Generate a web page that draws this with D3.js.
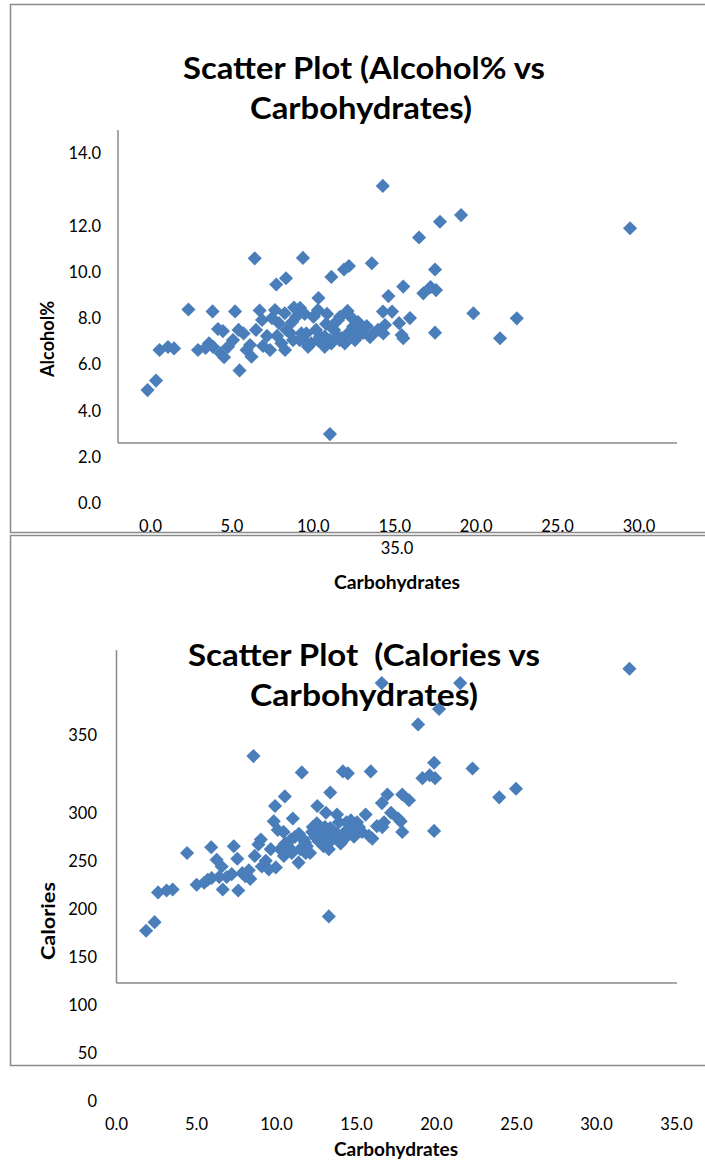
<!DOCTYPE html>
<html><head><meta charset="utf-8">
<script src="https://cdn.jsdelivr.net/npm/d3@7"></script>
<style>
html,body{margin:0;padding:0;background:#fff;}
svg{display:block;}
text{font-family:Lato, "Open Sans", sans-serif; fill:#000;}
</style></head>
<body>
<svg id="c" width="705" height="1161"></svg>
<script>
// ---------- DATA ----------
const carbs = [1.85,2.38,2.60,3.13,3.51,4.41,5.01,5.48,5.92,5.95,6.26,6.57,6.42,6.64,6.89,7.33,7.55,7.61,7.86,8.05,
  8.36,8.56,8.64,8.87,9.02,9.52,9.83,9.91,10.52,9.96,10.08,10.23,10.46,10.54,10.44,11.02,11.16,11.58,11.38,11.69,
  11.79,11.90,12.27,12.55,12.52,12.52,12.94,13.27,13.36,13.36,13.36,13.78,13.88,14.15,14.46,14.37,14.40,14.72,14.84,11.48,
  12.10,12.94,13.78,14.20,16.58,20.16,21.48,18.85,15.89,19.85,17.86,16.93,19.12,19.57,19.91,16.59,17.16,18.28,22.25,24.97,
  23.92,19.85,17.60,17.76,17.86,16.72,16.61,15.99,15.57,15.15,14.95,14.01,32.06,13.90,12.65,11.82,12.23,13.27,15.34,15.78,
  16.28,10.96,10.77,9.33,9.08,7.20,5.70,8.27,12.40,13.03,13.53,14.65,9.64,10.90,15.03,11.40,13.09];
const alcohol = [4.89,5.30,6.62,6.75,6.69,8.37,6.62,6.71,8.29,6.76,7.53,7.44,6.48,6.31,6.76,8.29,7.49,5.74,7.34,6.62,
  6.33,10.58,7.49,8.33,7.92,6.62,8.35,9.45,9.72,7.23,7.78,6.91,6.62,7.49,8.21,8.46,8.06,10.60,7.05,8.18,
  7.34,6.76,8.09,8.87,8.35,7.05,7.20,2.99,9.78,7.63,6.91,7.92,7.05,10.10,10.25,8.31,7.34,7.63,7.05,7.34,
  6.91,6.76,7.20,6.91,13.71,12.16,12.45,11.48,10.37,10.10,9.36,8.95,9.07,9.34,9.21,8.28,8.28,8.00,8.21,7.99,
  7.13,7.37,7.78,7.27,7.13,7.70,7.34,7.34,7.66,7.49,7.20,7.14,11.88,8.06,7.20,6.91,8.06,7.05,7.36,7.18,
  7.49,7.05,7.36,7.23,6.80,7.05,6.91,6.84,7.49,7.75,7.49,8.00,8.00,7.83,7.83,8.44,8.18];
const calories = [177,186,217,219,220,258,225,227,264,232,251,244,233,220,233,265,252,219,237,234,
  231,359,255,267,272,241,291,307,317,243,282,262,255,268,280,294,275,342,248,272,
  269,265,285,307,289,282,276,192,321,284,270,298,275,343,341,290,282,285,275,262,
  258,265,278,272,435,408,435,392,343,352,319,319,336,339,336,310,300,313,346,325,
  316,281,294,291,280,290,285,273,298,285,278,268,450,290,270,258,280,262,280,276,
  286,258,264,250,244,236,230,240,275,285,280,292,262,272,290,278,300];

const alcTicks = [0,2,4,6,8,10,12,14];
const calTicks = [0,50,100,150,200,250,300,350];
const carbTicks = [0,5,10,15,20,25,30,35];
const title1 = ["Scatter Plot (Alcohol% vs", "Carbohydrates)"];
const title2 = ["Scatter Plot  (Calories vs", "Carbohydrates)"];
const xTitle = "Carbohydrates";
const yTitle1 = "Alcohol%";
const yTitle2 = "Calories";

// ---------- DRAW ----------
const svg = d3.select("#c");
const marker = "#4A7EBB";
const lineCol = "#8a8a8a";
const fmt1 = d3.format(".1f");
const diamond = d3.symbol().type(d3.symbolSquare).size(100);

const rows = carbs.map((c,i)=>({c, a:alcohol[i], k:calories[i]}));

// chart borders
svg.append("rect").attr("x",10.5).attr("y",4.5).attr("width",720).attr("height",528)
  .attr("fill","none").attr("stroke",lineCol).attr("stroke-width",1.5);
svg.append("rect").attr("x",10.5).attr("y",535.5).attr("width",720).attr("height",530)
  .attr("fill","none").attr("stroke",lineCol).attr("stroke-width",1.5);

function fitText(sel, w){
  sel.attr("textLength", w).attr("lengthAdjust","spacingAndGlyphs");
}

// ===== Chart 1 =====
{
  const x = d3.scaleLinear().domain([0,35]).range([118,677]);
  const y = d3.scaleLinear().domain([0,14]).range([503.3,179.2]);
  const xLab = d3.scaleLinear().domain([0,30]).range([150.5,639]);
  svg.append("line").attr("x1",118).attr("x2",118).attr("y1",130).attr("y2",443)
    .attr("stroke",lineCol).attr("stroke-width",1.5);
  svg.append("line").attr("x1",118).attr("x2",677).attr("y1",443).attr("y2",443)
    .attr("stroke",lineCol).attr("stroke-width",1.5);
  svg.append("text").attr("x",364).attr("y",79).attr("text-anchor","middle")
    .attr("font-size",31).attr("font-weight",700).text(title1[0]).call(fitText,362);
  svg.append("text").attr("x",361).attr("y",119).attr("text-anchor","middle")
    .attr("font-size",31).attr("font-weight",700).text(title1[1]).call(fitText,222);
  svg.append("g").selectAll("text").data(alcTicks).join("text")
    .attr("x",101).attr("y",d=> (d===14 ? y(d)-26 : y(d)) + 6)
    .attr("text-anchor","end").attr("font-size",16.5).text(d=>fmt1(d));
  svg.append("g").selectAll("text").data(carbTicks.filter(d=>d<35)).join("text")
    .attr("x",d=>xLab(d)).attr("y",532).attr("text-anchor","middle")
    .attr("font-size",16.5).text(d=>fmt1(d));
  svg.append("text").attr("x",397).attr("y",554).attr("text-anchor","middle")
    .attr("font-size",16.5).text(fmt1(35));
  svg.append("text").attr("x",397).attr("y",589).attr("text-anchor","middle")
    .attr("font-size",18).attr("font-weight",700).text(xTitle).call(fitText,126);
  svg.append("text").attr("transform","translate(54,339) rotate(-90)").attr("text-anchor","middle")
    .attr("font-size",18).attr("font-weight",700).text(yTitle1).call(fitText,76);
  svg.append("g").selectAll("path").data(rows).join("path")
    .attr("d",diamond).attr("fill",marker)
    .attr("transform",d=>`translate(${x(d.c)},${y(d.a)}) rotate(45)`);
}

// ===== Chart 2 =====
{
  const x = d3.scaleLinear().domain([0,35]).range([116.5,676.5]);
  const y = d3.scaleLinear().domain([0,350]).range([1100.7,764.7]);
  svg.append("line").attr("x1",116.5).attr("x2",116.5).attr("y1",650).attr("y2",983)
    .attr("stroke",lineCol).attr("stroke-width",1.5);
  svg.append("line").attr("x1",116.5).attr("x2",677).attr("y1",983).attr("y2",983)
    .attr("stroke",lineCol).attr("stroke-width",1.5);
  svg.append("g").selectAll("text").data(calTicks).join("text")
    .attr("x",97).attr("y",d=> (d===350 ? y(d)-30 : y(d)) + 6)
    .attr("text-anchor","end").attr("font-size",16.5).text(d=>d);
  svg.append("g").selectAll("text").data(carbTicks).join("text")
    .attr("x",d=>x(d)).attr("y",1130).attr("text-anchor","middle")
    .attr("font-size",16.5).text(d=>fmt1(d));
  svg.append("text").attr("x",396).attr("y",1156).attr("text-anchor","middle")
    .attr("font-size",18).attr("font-weight",700).text(xTitle).call(fitText,124);
  svg.append("text").attr("transform","translate(55,921) rotate(-90)").attr("text-anchor","middle")
    .attr("font-size",18).attr("font-weight",700).text(yTitle2).call(fitText,78);
  svg.append("g").selectAll("path").data(rows).join("path")
    .attr("d",diamond).attr("fill",marker)
    .attr("transform",d=>`translate(${x(d.c)},${y(d.k)}) rotate(45)`);
  svg.append("text").attr("x",364).attr("y",666).attr("text-anchor","middle")
    .attr("font-size",31).attr("font-weight",700).attr("xml:space","preserve")
    .style("white-space","pre").text(title2[0]).call(fitText,352);
  svg.append("text").attr("x",364).attr("y",706).attr("text-anchor","middle")
    .attr("font-size",31).attr("font-weight",700).text(title2[1]).call(fitText,228);
}
</script>
</body></html>
